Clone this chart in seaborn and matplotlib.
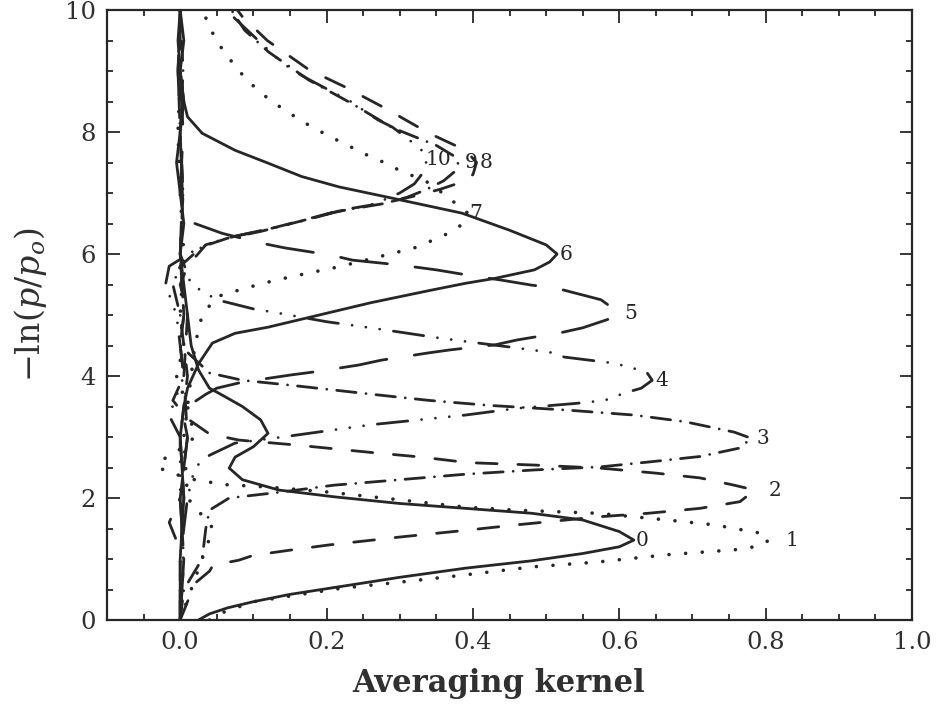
import matplotlib
matplotlib.use("Agg")
import matplotlib.pyplot as plt
from matplotlib.ticker import MultipleLocator, FormatStrFormatter
import seaborn as sns

# Averaging kernels for retrieval levels 0..10:
# kernel value (x) against height -ln(p/p0) (y)
levels = [0, 1, 2, 3, 4, 5, 6, 7, 8, 9, 10]

y0 = [0.0, 0.1, 0.2, 0.3, 0.42, 0.55, 0.7, 0.85, 0.97, 1.09, 1.2, 1.31, 1.45, 1.64, 1.75, 1.83, 1.91, 2.02, 2.13, 2.3,
      2.49, 2.67, 2.84, 3.06, 3.28, 3.5, 3.69, 3.8, 4.1, 4.5, 5.0, 5.5, 6.0, 6.5, 7.0, 7.5, 8.0, 8.5, 9.0, 9.5, 10.0]
k0 = [0.025, 0.04, 0.065, 0.1, 0.15, 0.22, 0.30, 0.39, 0.48, 0.55, 0.60, 0.62, 0.60, 0.55, 0.48, 0.39, 0.30, 0.21, 0.135, 0.085,
      0.067, 0.075, 0.10, 0.12, 0.11, 0.085, 0.057, 0.04, 0.025, 0.015, 0.01, 0.005, 0.0, 0.005, 0.0, -0.005, 0.0, 0.005, 0.0, -0.003, 0.0]

y1 = [0.0, 0.13, 0.3, 0.41, 0.52, 0.62, 0.74, 0.87, 0.95, 1.07, 1.15, 1.21, 1.31, 1.43, 1.56, 1.64, 1.75, 1.8, 1.85, 1.97,
      2.1, 2.18, 2.22, 2.3, 2.4, 2.5, 2.62, 2.8, 3.0, 3.5, 4.0, 4.5, 5.0, 6.0, 7.0, 8.0, 9.0, 10.0]
k1 = [0.04, 0.06, 0.1, 0.16, 0.22, 0.30, 0.39, 0.48, 0.57, 0.665, 0.757, 0.79, 0.805, 0.79, 0.73, 0.665, 0.57, 0.46, 0.39, 0.30,
      0.20, 0.12, 0.06, 0.02, -0.01, -0.03, -0.025, 0.0, 0.02, 0.01, -0.005, 0.005, 0.0, 0.005, 0.0, -0.003, 0.0, 0.0]

y2 = [0.0, 0.3, 0.6, 0.8, 0.9, 0.98, 1.06, 1.15, 1.23, 1.36, 1.47, 1.56, 1.69, 1.75, 1.83, 1.94, 2.13, 2.21, 2.33, 2.41,
      2.49, 2.54, 2.58, 2.67, 2.75, 2.87, 2.95, 3.05, 3.3, 3.6, 4.0, 4.5, 5.0, 6.0, 7.0, 8.0, 9.0, 10.0]
k2 = [0.0, 0.01, 0.02, 0.04, 0.045, 0.08, 0.10, 0.153, 0.203, 0.30, 0.39, 0.46, 0.57, 0.64, 0.71, 0.765, 0.785, 0.757, 0.71, 0.648,
      0.574, 0.484, 0.393, 0.33, 0.258, 0.157, 0.08, 0.04, 0.01, -0.01, 0.005, 0.0, 0.005, 0.0, 0.003, 0.0, -0.003, 0.0]

y3 = [0.0, 0.5, 1.0, 1.5, 1.8, 2.0, 2.1, 2.21, 2.3, 2.39, 2.46, 2.51, 2.59, 2.68, 2.82, 2.98, 3.08, 3.25, 3.36, 3.44,
      3.52, 3.6, 3.69, 3.77, 3.85, 3.93, 4.05, 4.5, 5.0, 6.0, 7.0, 8.0, 9.0, 10.0]
k3 = [0.0, 0.005, 0.03, 0.035, 0.04, 0.067, 0.14, 0.21, 0.30, 0.39, 0.484, 0.574, 0.64, 0.71, 0.765, 0.78, 0.757, 0.69, 0.62, 0.53,
      0.42, 0.34, 0.27, 0.21, 0.15, 0.085, 0.04, 0.0, 0.005, 0.0, 0.004, 0.0, 0.004, 0.0]

y4 = [0.0, 1.0, 2.0, 2.5, 2.7, 2.9, 3.0, 3.2, 3.36, 3.47, 3.55, 3.6, 3.72, 3.8, 3.93, 4.07, 4.21, 4.31, 4.38, 4.46,
      4.56, 4.63, 4.72, 4.79, 4.89, 5.03, 5.1, 5.25, 5.5, 6.0, 7.0, 8.0, 9.0, 10.0]
k4 = [0.0, 0.0, 0.01, 0.02, 0.04, 0.075, 0.14, 0.26, 0.39, 0.46, 0.54, 0.58, 0.607, 0.63, 0.645, 0.637, 0.593, 0.525, 0.51, 0.46,
      0.394, 0.35, 0.30, 0.26, 0.20, 0.135, 0.10, 0.05, 0.015, 0.0, 0.004, 0.0, -0.003, 0.0]

y5 = [0.0, 1.0, 2.0, 3.0, 3.3, 3.5, 3.7, 3.8, 3.9, 4.02, 4.07, 4.18, 4.26, 4.38, 4.43, 4.51, 4.59, 4.71, 4.79, 4.95,
      5.02, 5.12, 5.25, 5.44, 5.49, 5.57, 5.66, 5.74, 5.82, 5.9, 5.98, 6.1, 6.18, 6.34, 6.5, 7.0, 8.0, 9.0, 10.0]
k5 = [0.0, 0.005, 0.0, 0.01, 0.005, 0.01, 0.035, 0.05, 0.085, 0.153, 0.185, 0.244, 0.275, 0.34, 0.37, 0.43, 0.46, 0.52, 0.55, 0.59,
      0.60, 0.59, 0.575, 0.514, 0.48, 0.44, 0.39, 0.35, 0.30, 0.235, 0.207, 0.143, 0.11, 0.057, 0.02, 0.0, 0.004, 0.0, 0.0]

y6 = [0.0, 1.0, 2.0, 3.0, 3.5, 3.8, 4.2, 4.54, 4.7, 4.8, 5.0, 5.2, 5.4, 5.52, 5.6, 5.74, 5.87, 6.0, 6.15, 6.39,
      6.67, 6.94, 7.1, 7.27, 7.49, 7.7, 7.98, 8.25, 8.5, 9.0, 9.5, 10.0]
k6 = [0.0, 0.0, 0.005, 0.0, 0.005, 0.01, 0.025, 0.044, 0.075, 0.12, 0.19, 0.26, 0.34, 0.39, 0.43, 0.484, 0.505, 0.515, 0.5, 0.45,
      0.385, 0.28, 0.217, 0.166, 0.12, 0.075, 0.03, 0.01, 0.005, 0.0, 0.005, 0.0]

y7 = [0.0, 1.0, 1.5, 2.0, 3.0, 4.0, 4.5, 5.0, 5.3, 5.44, 5.57, 5.69, 5.79, 5.98, 6.1, 6.3, 6.48, 6.67, 6.89, 7.05,
      7.2, 7.3, 7.41, 7.52, 7.64, 7.75, 7.87, 7.98, 8.11, 8.25, 8.39, 8.54, 8.7, 8.88, 9.1, 9.31, 9.54, 9.79, 10.0]
k7 = [0.0, 0.03, 0.045, 0.01, 0.005, 0.015, 0.02, 0.03, 0.05, 0.089, 0.13, 0.176, 0.217, 0.28, 0.32, 0.36, 0.385, 0.393, 0.37, 0.353,
      0.335, 0.314, 0.293, 0.275, 0.252, 0.234, 0.214, 0.196, 0.176, 0.157, 0.139, 0.121, 0.105, 0.089, 0.074, 0.06, 0.048, 0.037, 0.032]

y8 = [0.0, 1.0, 1.6, 2.0, 3.0, 4.0, 5.0, 5.5, 5.8, 6.15, 6.28, 6.39, 6.56, 6.72, 6.85, 6.95, 7.06, 7.16, 7.3, 7.5,
      7.7, 7.98, 8.39, 8.74, 9.02, 9.5, 9.89, 10.0]
k8 = [0.0, 0.005, -0.015, 0.0, 0.01, 0.005, 0.01, 0.0, 0.01, 0.035, 0.07, 0.115, 0.17, 0.22, 0.285, 0.32, 0.355, 0.38, 0.40, 0.405,
      0.39, 0.34, 0.28, 0.225, 0.176, 0.119, 0.085, 0.078]

y9 = [0.0, 1.0, 2.0, 3.0, 4.0, 5.0, 5.5, 5.8, 6.12, 6.26, 6.37, 6.54, 6.7, 6.83, 6.93, 7.05, 7.2, 7.35, 7.5, 7.6,
      7.78, 8.07, 8.47, 8.85, 9.31, 9.67, 10.0]
k9 = [0.0, 0.0, 0.005, 0.0, 0.01, 0.0, -0.01, 0.0, 0.03, 0.065, 0.11, 0.165, 0.215, 0.28, 0.31, 0.335, 0.36, 0.375, 0.38, 0.375,
      0.35, 0.29, 0.234, 0.176, 0.121, 0.088, 0.07]

y10 = [0.0, 1.0, 2.0, 3.0, 3.35, 4.0, 5.0, 5.5, 5.8, 6.1, 6.25, 6.37, 6.52, 6.68, 6.82, 6.92, 7.0, 7.15, 7.35, 7.55,
       7.7, 7.9, 8.08, 8.2, 8.36, 8.5, 8.74, 8.88, 9.02, 9.18, 9.87, 10.0]
k10 = [0.0, 0.005, 0.0, 0.0, -0.015, 0.005, -0.005, -0.02, -0.015, 0.025, 0.06, 0.105, 0.16, 0.21, 0.265, 0.285, 0.3, 0.32, 0.333, 0.337,
       0.33, 0.31, 0.29, 0.27, 0.25, 0.233, 0.195, 0.173, 0.153, 0.135, 0.074, 0.066]

heights = [y0, y1, y2, y3, y4, y5, y6, y7, y8, y9, y10]
kernels = [k0, k1, k2, k3, k4, k5, k6, k7, k8, k9, k10]

x_ticks = [0.0, 0.2, 0.4, 0.6, 0.8, 1.0]
y_ticks = [0, 2, 4, 6, 8, 10]

sns.set_theme(style="ticks")
plt.rcParams["font.family"] = ["DejaVu Serif"]
plt.rcParams["mathtext.fontset"] = "dejavuserif"

INK = "#262626"
LW = 2.0

# line styles cycle: solid, dotted, dashed, dash-dot, dash-dot-dot-dot, long dashes
# (round caps: a near-zero "on" length draws a round dot); widths per style
STYLES = [
    ("-", LW),
    ((0, (0.01, 4.6)), 2.6),
    ((0, (7.5, 7.5)), LW),
    ((0, (7, 3.6, 0.01, 3.6)), LW),
    ((0, (11, 5, 0.01, 5, 0.01, 5, 0.01, 5)), LW),
    ((0, (17, 10)), LW),
]
# horizontal offset (points) of each number from the tip of its kernel
LABEL_DX = [1, 12, 10, 4, 2, 3.5, 1.5, 1, 2, 4.5, -1]

fig = plt.figure(figsize=(9.36, 7.04), dpi=100)
ax = fig.add_axes([107 / 936, 84 / 704, 805 / 936, 610 / 704])

for lev, ys, ks in zip(levels, heights, kernels):
    ls, lw = STYLES[lev % 6]
    sns.lineplot(x=ks, y=ys, sort=False, estimator=None, ax=ax,
                 color=INK, linewidth=lw, linestyle=ls,
                 dash_capstyle="round", solid_joinstyle="round")
    i_peak = max(range(len(ks)), key=lambda i: ks[i])
    ax.annotate(str(lev), xy=(ks[i_peak], ys[i_peak]),
                xytext=(LABEL_DX[lev], 0), textcoords="offset points",
                ha="left", va="center", fontsize=14.5, color=INK)

ax.set_xlim(-0.1, 1.0)
ax.set_ylim(0, 10)
ax.set_xticks(x_ticks)
ax.set_yticks(y_ticks)
ax.xaxis.set_major_formatter(FormatStrFormatter("%.1f"))
ax.xaxis.set_minor_locator(MultipleLocator(0.05))
ax.yaxis.set_minor_locator(MultipleLocator(0.5))
ax.tick_params(which="both", direction="in", top=True, right=True,
               color=INK, width=1.3, labelsize=17.5, labelcolor="#303030")
ax.tick_params(which="major", length=9, pad=8)
ax.tick_params(which="minor", length=4.5)
for sp in ax.spines.values():
    sp.set_linewidth(1.6)
    sp.set_color(INK)

ax.set_xlabel("Averaging kernel", fontsize=22, fontweight="bold", color="#303030")
ax.xaxis.set_label_coords(0.486, -0.078)
ax.set_ylabel(r"$-\ln(p/p_o)$", fontsize=24, color="#303030")
ax.yaxis.set_label_coords(-0.072, 0.516)

fig.savefig("out.png", dpi=100, facecolor="white")
